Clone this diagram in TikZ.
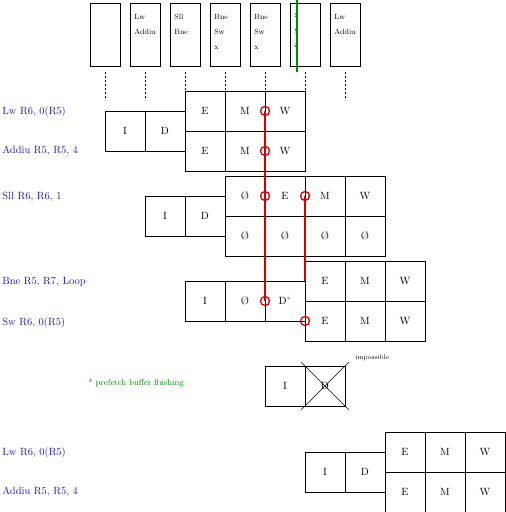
\documentclass[tikz,border=0pt]{standalone}
\usetikzlibrary{positioning}
\definecolor{bleuinstr}{RGB}{25,25,170}
\definecolor{rougealea}{RGB}{210,0,0}
\definecolor{vertflush}{RGB}{0,140,0}

\begin{document}
\begin{tikzpicture}[x=1pt, y=-1pt, line width=.8pt,
    etage/.style={draw, minimum width=40, minimum height=40, inner sep=0, outer sep=0, font=\fontsize{10.5}{11}\selectfont},
    colonne/.style={draw, minimum width=30, minimum height=63, inner sep=0, outer sep=0, anchor=north west},
    contenu/.style={anchor=north west, align=left, inner sep=0, font=\fontsize{7.5}{15}\selectfont},
    instr/.style={anchor=west, text=bleuinstr, inner sep=0, font=\fontsize{10.5}{11}\selectfont},
    bulle/.style={draw=rougealea, line width=1.3pt, circle, minimum size=9, inner sep=0},
    conflit/.style={rougealea, line width=1.1pt}]
    \useasboundingbox (0,0) rectangle (506,512);

    % les cases du haut
    \foreach \i/\txt in {0/{}, 1/{Lw\\Addiu}, 2/{Sll\\Bne}, 3/{Bne\\Sw\\x}, 4/{Bne\\Sw\\x}, 5/{x\\y\\z}, 6/{Lw\\Addiu}} {
        \node[colonne] (col\i) at ({90+40*\i}, 3) {};
        \node[contenu] (txt\i) at ([shift={(4,11)}]col\i.north west) {\txt};
        \draw[dash pattern=on 2pt off 2pt] ([yshift=-6]col\i.south) -- ++(0,28);
    }
    \draw[vertflush, line width=1.1pt] (297,0) -- (297,72);

    % Lw / Addiu
    \node[etage] (lwI) at (125,131) {I};
    \node[etage, right=0pt of lwI] (lwD) {D};
    \node[etage, anchor=south west] (lwE) at (lwD.east) {E};
    \node[etage, right=0pt of lwE] (lwM) {M};
    \node[etage, right=0pt of lwM] (lwW) {W};
    \node[etage, below=0pt of lwE] (adE) {E};
    \node[etage, right=0pt of adE] (adM) {M};
    \node[etage, right=0pt of adM] (adW) {W};

    % Sll
    \node[etage] (sllI) at (165,216) {I};
    \node[etage, right=0pt of sllI] (sllD) {D};
    \node[etage, anchor=south west] (sllA) at (sllD.east) {Ø};
    \node[etage, right=0pt of sllA] (sllE) {E};
    \node[etage, right=0pt of sllE] (sllM) {M};
    \node[etage, right=0pt of sllM] (sllW) {W};
    \node[etage, below=0pt of sllA] (vide1) {Ø};
    \node[etage, right=0pt of vide1] (vide2) {Ø};
    \node[etage, right=0pt of vide2] (vide3) {Ø};
    \node[etage, right=0pt of vide3] (vide4) {Ø};

    % Bne / Sw
    \node[etage] (bneI) at (205,301) {I};
    \node[etage, right=0pt of bneI] (bneA) {Ø};
    \node[etage, right=0pt of bneA] (bneD) {D\textcolor{vertflush}{$^*$}};
    \node[etage, anchor=south west] (bneE) at (bneD.east) {E};
    \node[etage, right=0pt of bneE] (bneM) {M};
    \node[etage, right=0pt of bneM] (bneW) {W};
    \node[etage, below=0pt of bneE] (swE) {E};
    \node[etage, right=0pt of swE] (swM) {M};
    \node[etage, right=0pt of swM] (swW) {W};

    % impossible
    \node[etage] (impI) at (285,386) {I};
    \node[etage, right=0pt of impI] (impD) {D};
    \draw[line width=.6pt] ([shift={(-4,-4)}]impD.north west) -- ([shift={(4,4)}]impD.south east);
    \draw[line width=.6pt] ([shift={(4,-4)}]impD.north east) -- ([shift={(-4,4)}]impD.south west);
    \node[anchor=west, inner sep=0, font=\fontsize{6.5}{7}\selectfont] (impTxt) at ([shift={(10,-8)}]impD.north east) {impossible};

    % Lw / Addiu, tour suivant
    \node[etage] (lw2I) at (325,472) {I};
    \node[etage, right=0pt of lw2I] (lw2D) {D};
    \node[etage, anchor=south west] (lw2E) at (lw2D.east) {E};
    \node[etage, right=0pt of lw2E] (lw2M) {M};
    \node[etage, right=0pt of lw2M] (lw2W) {W};
    \node[etage, below=0pt of lw2E] (ad2E) {E};
    \node[etage, right=0pt of ad2E] (ad2M) {M};
    \node[etage, right=0pt of ad2M] (ad2W) {W};

    % les aléas
    \draw[conflit] (lwM.east) -- (bneA.east);
    \draw[conflit] (sllE.east) -- (bneD.north east);
    \node[bulle] (r1) at (lwM.east) {};
    \node[bulle] (r2) at (adM.east) {};
    \node[bulle] (r3) at (sllA.east) {};
    \node[bulle] (r4) at (sllE.east) {};
    \node[bulle] (r5) at (bneA.east) {};
    \node[bulle] (r6) at (swE.west) {};

    % les instructions
    \node[instr] (lblLw) at (2,112) {Lw R6, 0(R5)};
    \node[instr] (lblAd) at (2,151) {Addiu R5, R5, 4};
    \node[instr] (lblSll) at (2,197) {Sll R6, R6, 1};
    \node[instr] (lblBne) at (2,282) {Bne R5, R7, Loop};
    \node[instr] (lblSw) at (2,323) {Sw R6, 0(R5)};
    \node[instr] (lblLw2) at (2,453) {Lw R6, 0(R5)};
    \node[instr] (lblAd2) at (2,492) {Addiu R5, R5, 4};
    \node[anchor=west, inner sep=0, text=vertflush, font=\fontsize{8.5}{9}\selectfont] (note) at (88,383) {* prefetch buffer flushing};
\end{tikzpicture}
\end{document}
